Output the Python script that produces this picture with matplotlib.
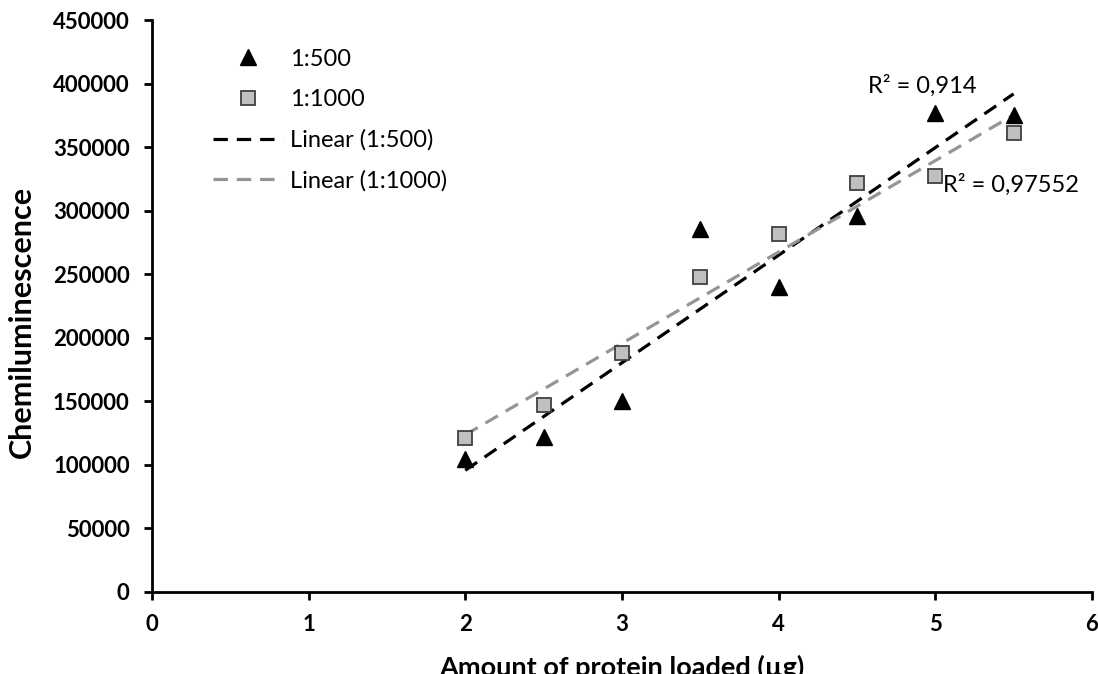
import numpy as np
import matplotlib
matplotlib.use("Agg")
import matplotlib.pyplot as plt

plt.rcParams["font.family"] = ["Lato", "DejaVu Sans"]

# data
x_vals = [2, 2.5, 3, 3.5, 4, 4.5, 5, 5.5]
y_500 = [105000, 122000, 150500, 285500, 240000, 295500, 377000, 375000]
y_1000 = [121000, 147000, 188000, 248000, 281500, 321500, 327500, 361500]

r2_labels = ["R\u00b2 = 0,914", "R\u00b2 = 0,97552"]

fig = plt.figure(figsize=(10.98, 6.74), dpi=100)
ax = fig.add_axes([0.1384, 0.1217, 0.8561, 0.8486])

x = np.array(x_vals)

# trendlines (least squares)
for ys, col in [(y_500, "black"), (y_1000, "#959595")]:
    k, b = np.polyfit(x, ys, 1)
    xs = np.array([x.min(), x.max()])
    lbl = "Linear (1:500)" if col == "black" else "Linear (1:1000)"
    ax.plot(xs, k * xs + b, color=col, lw=2.3, dashes=(4.5, 2.8), label=lbl, zorder=2)

ax.plot(x, y_500, linestyle="none", marker="^", ms=11, color="black", label="1:500", zorder=3)
ax.plot(x, y_1000, linestyle="none", marker="s", ms=10, mfc="#c0c0c0", mec="#404040",
        mew=1.3, label="1:1000", zorder=3)

handles, labels = ax.get_legend_handles_labels()
order = [2, 3, 0, 1]
ax.legend([handles[i] for i in order], [labels[i] for i in order], loc="upper left",
          bbox_to_anchor=(0.065, 0.95), frameon=False, fontsize=17, handlelength=2.95,
          handletextpad=0.3, labelspacing=0.82, borderpad=0, borderaxespad=0)

ax.text(4.568, 398000, r2_labels[0], fontsize=17, va="center", ha="left")
ax.text(5.05, 320000, r2_labels[1], fontsize=17, va="center", ha="left")

ax.set_xlim(0, 6)
ax.set_ylim(0, 450000)
ax.set_xticks(range(0, 7))
ax.set_yticks(range(0, 450001, 50000))
ax.tick_params(axis="both", direction="out", length=6, width=2, labelsize=16, pad=10)
for lab in ax.get_xticklabels() + ax.get_yticklabels():
    lab.set_fontweight("bold")

for s in ["top", "right"]:
    ax.spines[s].set_visible(False)
for s in ["left", "bottom"]:
    ax.spines[s].set_linewidth(2)

ax.set_ylabel("Chemiluminescence", fontsize=22, fontweight="bold")
ax.yaxis.set_label_coords(-0.124, 0.472)
ax.set_xlabel("Amount of protein loaded (\u00b5g)", fontsize=19.5, fontweight="bold", labelpad=14)

fig.savefig("out.png", dpi=100)
